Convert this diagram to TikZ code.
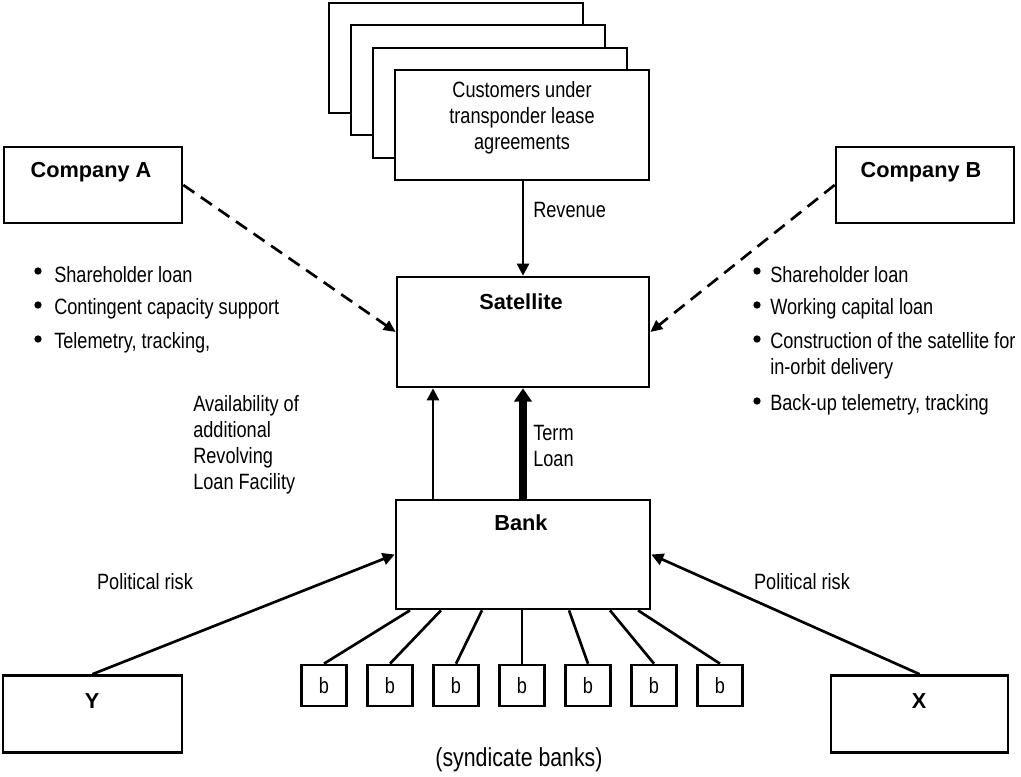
\documentclass[tikz,border=0pt]{standalone}
\usepackage{fontspec}
\setmainfont{Liberation Sans}
\newfontfamily\nar{Liberation Sans}[FakeStretch=0.82]
\usetikzlibrary{arrows.meta}
\tikzset{
  box/.style={draw, line width=2pt, fill=white, inner sep=0pt},
  reg/.style={font=\nar\fontsize{16.6}{19.5}\selectfont, inner sep=0pt},
  bld/.style={font=\fontsize{16.3}{19}\selectfont\bfseries, inner sep=0pt},
  arr/.style={line width=2pt, -{Triangle[length=9pt,width=9pt]}},
  thickarr/.style={line width=6pt, -{Triangle[length=10pt,width=13pt]}},
  darr/.style={line width=2pt, dash pattern=on 10pt off 6pt, -{Triangle[length=9pt,width=8pt]}},
  ln/.style={line width=2pt},
  bul/.style={circle, fill=black, inner sep=0pt, minimum size=5.5pt},
}
\begin{document}
\begin{tikzpicture}[x=0.75pt,y=-0.75pt]
\useasboundingbox[fill=white] (0,0) rectangle (1021,776);
% stacked customer boxes
\node[box, minimum width={254*0.75pt}, minimum height={110*0.75pt}] (c1) at (456,58) {};
\node[box, minimum width={254*0.75pt}, minimum height={110*0.75pt}] (c2) at (478,80) {};
\node[box, minimum width={254*0.75pt}, minimum height={110*0.75pt}] (c3) at (500,103) {};
\node[box, minimum width={254*0.75pt}, minimum height={110*0.75pt}] (cust) at (522,125) {};
\node[reg, align=center] (custt) at (522,118) {Customers under\\transponder lease\\agreements};
% satellite
\node[box, minimum width={252*0.75pt}, minimum height={110*0.75pt}] (sat) at (523,332) {};
\node[bld] (satt) at (521,302) {Satellite};
% bank
\node[box, minimum width={254*0.75pt}, minimum height={109*0.75pt}] (bank) at (523,554.5) {};
\node[bld] (bankt) at (521,523) {Bank};
% companies
\node[box, minimum width={178*0.75pt}, minimum height={76*0.75pt}] (ca) at (93,185) {};
\node[bld] (cat) at (91,172) {Company A};
\node[box, minimum width={178*0.75pt}, minimum height={76*0.75pt}] (cb) at (925,185) {};
\node[bld] (cbt) at (921,172) {Company B};
% Y and X
\node[box, minimum width={179*0.75pt}, minimum height={77*0.75pt}] (Y) at (92.5,714) {};
\node[bld] (Yt) at (92,701) {Y};
\node[box, minimum width={177*0.75pt}, minimum height={77*0.75pt}] (X) at (919.5,714) {};
\node[bld] (Xt) at (919,701) {X};
% syndicate b boxes
\foreach \i/\xx in {1/324,2/390,3/456,4/522,5/588,6/654,7/720}{
  \node[box, minimum width={45*0.75pt}, minimum height={41*0.75pt}, font=\nar\fontsize{16.6}{19}\selectfont] (b\i) at (\xx,685.5) {b};
}
\foreach \i/\xx in {1/410,2/441,3/482,4/522,5/569,6/610,7/638}{
  \coordinate (t\i) at (\xx,0);
  \draw[ln] (b\i.north) -- (bank.south -| t\i);
}
\node[font=\nar\fontsize{19.5}{22}\selectfont, inner sep=0pt] (synd) at (519,760) {(syndicate banks)};
% arrows
\draw[arr] (cust.south -| sat.north) -- (sat.north);
\node[reg, anchor=west] (rev) at (533,210) {Revenue};
\draw[darr] (ca.east) -- (sat.west);
\draw[darr] (cb.west) -- (sat.east);
\coordinate (rl) at (433,0);
\draw[arr] (bank.north -| rl) -- (sat.south -| rl);
\draw[thickarr] (bank.north) -- (sat.south);
\node[reg, anchor=north west, align=left] (term) at (533,425) {Term\\Loan};
\node[reg, anchor=north west, align=left] (avail) at (193,395) {Availability of\\additional\\Revolving\\Loan Facility};
\draw[arr] (Y.north) -- (bank.west);
\draw[arr] (X.north) -- (bank.east);
\node[reg] (pr1) at (145,582) {Political risk};
\node[reg] (pr2) at (802,582) {Political risk};
% bullets left
\node[bul] (ba1) at (38,271) {};
\node[bul] (ba2) at (38,305) {};
\node[bul] (ba3) at (38,339) {};
\node[reg, anchor=west] (la1) at (54,275) {Shareholder loan};
\node[reg, anchor=west] (la2) at (54,309) {Contingent capacity support};
\node[reg, anchor=west] (la3) at (54,343) {Telemetry, tracking,};
% bullets right
\node[bul] (bb1) at (757,271) {};
\node[bul] (bb2) at (757,305) {};
\node[bul] (bb3) at (757,339) {};
\node[bul] (bb4) at (757,401) {};
\node[reg, anchor=west] (lb1) at (770,275) {Shareholder loan};
\node[reg, anchor=west] (lb2) at (770,309) {Working capital loan};
\node[reg, anchor=north west, align=left] (lb3) at (770,332) {Construction of the satellite for\\in-orbit delivery};
\node[reg, anchor=west] (lb4) at (770,405) {Back-up telemetry, tracking};
\end{tikzpicture}
\end{document}
